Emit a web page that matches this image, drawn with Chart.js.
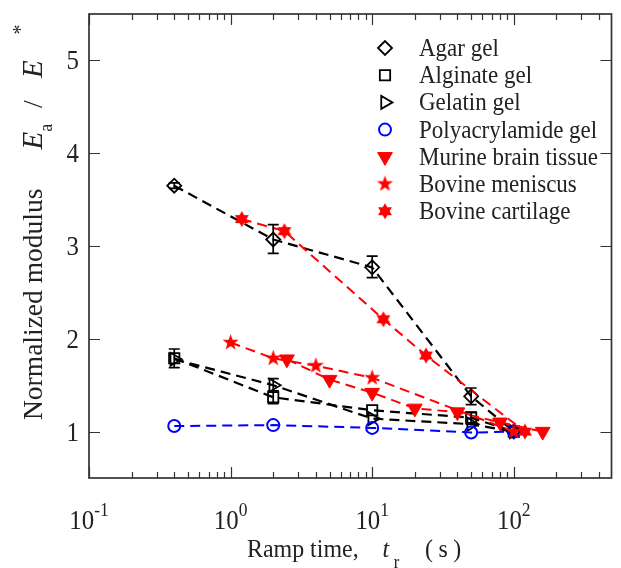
<!DOCTYPE html>
<html>
<head>
<meta charset="utf-8">
<script src="https://cdn.jsdelivr.net/npm/chart.js@4.4.1/dist/chart.umd.min.js"></script>
<style>
  html, body { margin: 0; padding: 0; background: #fff; }
  canvas { display: block; }
</style>
</head>
<body>
<canvas id="chart" width="621" height="568"></canvas>
<script>
// ramp times (s) and normalized modulus Ea/E*
var gelTimes = [0.4, 2, 10, 50, 100];
var agarGel = [3.65, 3.07, 2.77, 1.38, 1.0];
var agarLow = [3.62, 2.92, 2.66, 1.29, null];
var agarHigh = [3.68, 3.23, 2.89, 1.47, null];
var alginateGel = [1.79, 1.37, 1.23, 1.15, 1.0];
var alginateLow = [1.69, 1.30, null, 1.08, null];
var alginateHigh = [1.89, 1.44, null, 1.21, null];
var gelatinGel = [1.78, 1.50, 1.14, 1.08, 1.0];
var gelatinLow = [null, 1.44, null, null, null];
var gelatinHigh = [null, 1.57, null, null, null];
var polyacrylamideGel = [1.06, 1.07, 1.04, 0.99, 1.0];
var brainTimes = [2.5, 5, 10, 20, 40, 80, 160];
var murineBrain = [1.78, 1.56, 1.42, 1.25, 1.21, 1.10, 1.0];
var meniscusTimes = [1, 2, 4, 10, 100];
var bovineMeniscus = [1.96, 1.79, 1.71, 1.58, 1.0];
var cartilageTimes = [1.2, 2.4, 12, 24, 120];
var bovineCartilage = [3.29, 3.16, 2.21, 1.82, 1.0];

var seriesNames = ['Agar gel', 'Alginate gel', 'Gelatin gel', 'Polyacrylamide gel',
  'Murine brain tissue', 'Bovine meniscus', 'Bovine cartilage'];
var xTicks = [0.1, 1, 10, 100];
var xTickExp = ['-1', '0', '1', '2'];
var yTicks = [1, 2, 3, 4, 5];

var SQUASH = 0.92;
var FONT = '"Liberation Serif", "Times New Roman", serif';
var TEXT = '#222222';
var AXIS = '#333333';

function pts(xs, ys) {
  return xs.map(function (x, i) { return { x: x, y: ys[i] }; });
}

function starCanvas(n, outer, inner, color) {
  var size = Math.ceil(outer * 2 + 2);
  var c = document.createElement('canvas');
  c.width = size; c.height = size;
  var g = c.getContext('2d');
  g.fillStyle = color;
  g.beginPath();
  for (var i = 0; i < n * 2; i++) {
    var r = i % 2 === 0 ? outer : inner;
    var a = -Math.PI / 2 + i * Math.PI / n;
    var px = size / 2 + r * Math.cos(a), py = size / 2 + r * Math.sin(a);
    if (i === 0) g.moveTo(px, py); else g.lineTo(px, py);
  }
  g.closePath();
  g.fill();
  return c;
}

var star5 = starCanvas(5, 8.5, 3.4, '#ff0000');
var star6 = starCanvas(6, 8, 4.6, '#ff0000');
var none = 'rgba(0,0,0,0)';

function line(label, data, color, style, radius, rot, fill, bw, lw) {
  return {
    label: label, data: data,
    borderColor: color, borderWidth: lw, borderDash: [10, 6],
    pointStyle: style, pointRadius: radius, pointRotation: rot,
    pointBorderColor: color, pointBackgroundColor: fill, pointBorderWidth: bw,
    tension: 0, fill: false
  };
}

var datasets = [
  line(seriesNames[0], pts(gelTimes, agarGel), '#000000', 'rectRot', 7, 0, none, 1.8, 2.2),
  line(seriesNames[1], pts(gelTimes, alginateGel), '#000000', 'rect', 7.3, 0, none, 1.8, 2.2),
  line(seriesNames[2], pts(gelTimes, gelatinGel), '#000000', 'triangle', 7.5, 90, none, 1.8, 2.2),
  line(seriesNames[3], pts(gelTimes, polyacrylamideGel), '#0000ff', 'circle', 6, 0, none, 2, 2),
  line(seriesNames[4], pts(brainTimes, murineBrain), '#ff0000', 'triangle', 8.5, 180, '#ff0000', 1, 2),
  line(seriesNames[5], pts(meniscusTimes, bovineMeniscus), '#ff0000', star5, 8, 0, '#ff0000', 0, 2),
  line(seriesNames[6], pts(cartilageTimes, bovineCartilage), '#ff0000', star6, 8, 0, '#ff0000', 0, 2)
];
datasets.forEach(function (d, i) { d.order = datasets.length - i; });
datasets[0].errLow = agarLow; datasets[0].errHigh = agarHigh;
datasets[1].errLow = alginateLow; datasets[1].errHigh = alginateHigh;
datasets[2].errLow = gelatinLow; datasets[2].errHigh = gelatinHigh;

// text helpers: runs of text with gaps and baseline offsets
function drawRuns(ctx, runs, x, y, rotated) {
  ctx.save();
  ctx.translate(x, y);
  if (rotated) ctx.rotate(-Math.PI / 2);
  else ctx.scale(SQUASH, 1);
  ctx.fillStyle = TEXT;
  ctx.textAlign = 'left';
  ctx.textBaseline = 'alphabetic';
  var cx = 0;
  runs.forEach(function (r) {
    cx += r.gap || 0;
    ctx.font = r.font;
    ctx.fillText(r.t, cx, r.dy || 0);
    cx += ctx.measureText(r.t).width;
  });
  ctx.restore();
}

function runsWidth(ctx, runs) {
  var w = 0;
  runs.forEach(function (r) {
    ctx.font = r.font;
    w += (r.gap || 0) + ctx.measureText(r.t).width;
  });
  return w * SQUASH;
}

var errorBars = {
  id: 'errorBars',
  afterDatasetsDraw: function (chart) {
    var ctx = chart.ctx, xs = chart.scales.x, ys = chart.scales.y;
    ctx.save();
    ctx.strokeStyle = '#000000';
    ctx.lineWidth = 1.7;
    chart.data.datasets.forEach(function (ds) {
      if (!ds.errLow) return;
      ds.data.forEach(function (p, i) {
        if (ds.errLow[i] == null) return;
        var px = xs.getPixelForValue(p.x);
        var y1 = ys.getPixelForValue(ds.errLow[i]);
        var y2 = ys.getPixelForValue(ds.errHigh[i]);
        ctx.beginPath();
        ctx.moveTo(px, y1); ctx.lineTo(px, y2);
        ctx.moveTo(px - 5.5, y1); ctx.lineTo(px + 5.5, y1);
        ctx.moveTo(px - 5.5, y2); ctx.lineTo(px + 5.5, y2);
        ctx.stroke();
      });
    });
    ctx.restore();
  }
};

var axesBox = {
  id: 'axesBox',
  afterDraw: function (chart) {
    var ctx = chart.ctx, a = chart.chartArea, xs = chart.scales.x, ys = chart.scales.y;
    ctx.save();
    ctx.strokeStyle = AXIS;
    ctx.lineWidth = 1.7;
    ctx.strokeRect(a.left, a.top, a.right - a.left, a.bottom - a.top);
    ctx.lineWidth = 1.2;
    ctx.beginPath();
    // x ticks, inward on bottom and top
    for (var d = -1; d <= 2; d++) {
      for (var m = 1; m <= 9; m++) {
        var v = m * Math.pow(10, d);
        if (v < xs.min || v > xs.max) continue;
        var px = Math.round(xs.getPixelForValue(v)) + 0.5;
        var len = m === 1 ? 11 : 6;
        ctx.moveTo(px, a.bottom); ctx.lineTo(px, a.bottom - len);
        ctx.moveTo(px, a.top); ctx.lineTo(px, a.top + len);
      }
    }
    yTicks.forEach(function (v) {
      var py = Math.round(ys.getPixelForValue(v)) + 0.5;
      ctx.moveTo(a.left, py); ctx.lineTo(a.left + 11, py);
      ctx.moveTo(a.right, py); ctx.lineTo(a.right - 11, py);
    });
    ctx.stroke();

    // x tick labels 10^n
    xTicks.forEach(function (v, i) {
      var runs = [
        { t: '10', font: '27px ' + FONT },
        { t: xTickExp[i], font: '19px ' + FONT, dy: -13 }
      ];
      var w = runsWidth(ctx, runs);
      drawRuns(ctx, runs, xs.getPixelForValue(v) - w / 2, 529, false);
    });
    // y tick labels
    yTicks.forEach(function (v) {
      var runs = [{ t: String(v), font: '27px ' + FONT }];
      var w = runsWidth(ctx, runs);
      drawRuns(ctx, runs, 79 - w, ys.getPixelForValue(v) + 9, false);
    });

    // axis titles
    drawRuns(ctx, [
      { t: 'Ramp time,', font: '26px ' + FONT },
      { t: 't', font: 'italic 26px ' + FONT, gap: 26 },
      { t: 'r', font: '18px ' + FONT, dy: 11, gap: 5 },
      { t: '(', font: '26px ' + FONT, gap: 28 },
      { t: 's', font: '26px ' + FONT, gap: 6 },
      { t: ')', font: '26px ' + FONT, gap: 6 }
    ], 247, 557, false);
    drawRuns(ctx, [
      { t: 'Normalized modulus', font: '27.5px ' + FONT },
      { t: 'E', font: 'italic 29px ' + FONT, gap: 39 },
      { t: 'a', font: '18px ' + FONT, dy: 10, gap: 0 },
      { t: '/', font: '28px ' + FONT, gap: 16 },
      { t: 'E', font: 'italic 29px ' + FONT, gap: 22 },
      { t: '*', font: '20px ' + FONT, dy: -15, gap: 26 }
    ], 42, 420, true);

    // legend
    var lx = 385, ly = 48, step = 27.2;
    chart.data.datasets.forEach(function (ds, i) {
      var y = ly + i * step;
      ctx.save();
      ctx.strokeStyle = ds.pointBorderColor;
      ctx.fillStyle = ds.pointBackgroundColor;
      ctx.lineWidth = ds.pointBorderWidth;
      Chart.helpers.drawPoint(ctx, {
        pointStyle: ds.pointStyle, rotation: ds.pointRotation,
        radius: ds.pointRadius, borderWidth: ds.pointBorderWidth
      }, lx, y);
      ctx.restore();
      drawRuns(ctx, [{ t: ds.label, font: '25px ' + FONT }], 419, y + 8, false);
    });
    ctx.restore();
  }
};

new Chart(document.getElementById('chart').getContext('2d'), {
  type: 'line',
  data: { datasets: datasets },
  options: {
    responsive: false,
    animation: false,
    events: [],
    layout: { padding: { left: 89, right: 1, top: 14, bottom: 90 } },
    scales: {
      x: { type: 'logarithmic', display: false, min: 0.1, max: 490 },
      y: { type: 'linear', display: false, min: 0.5, max: 5.5 }
    },
    plugins: { legend: { display: false }, tooltip: { enabled: false } }
  },
  plugins: [errorBars, axesBox]
});
</script>
</body>
</html>
